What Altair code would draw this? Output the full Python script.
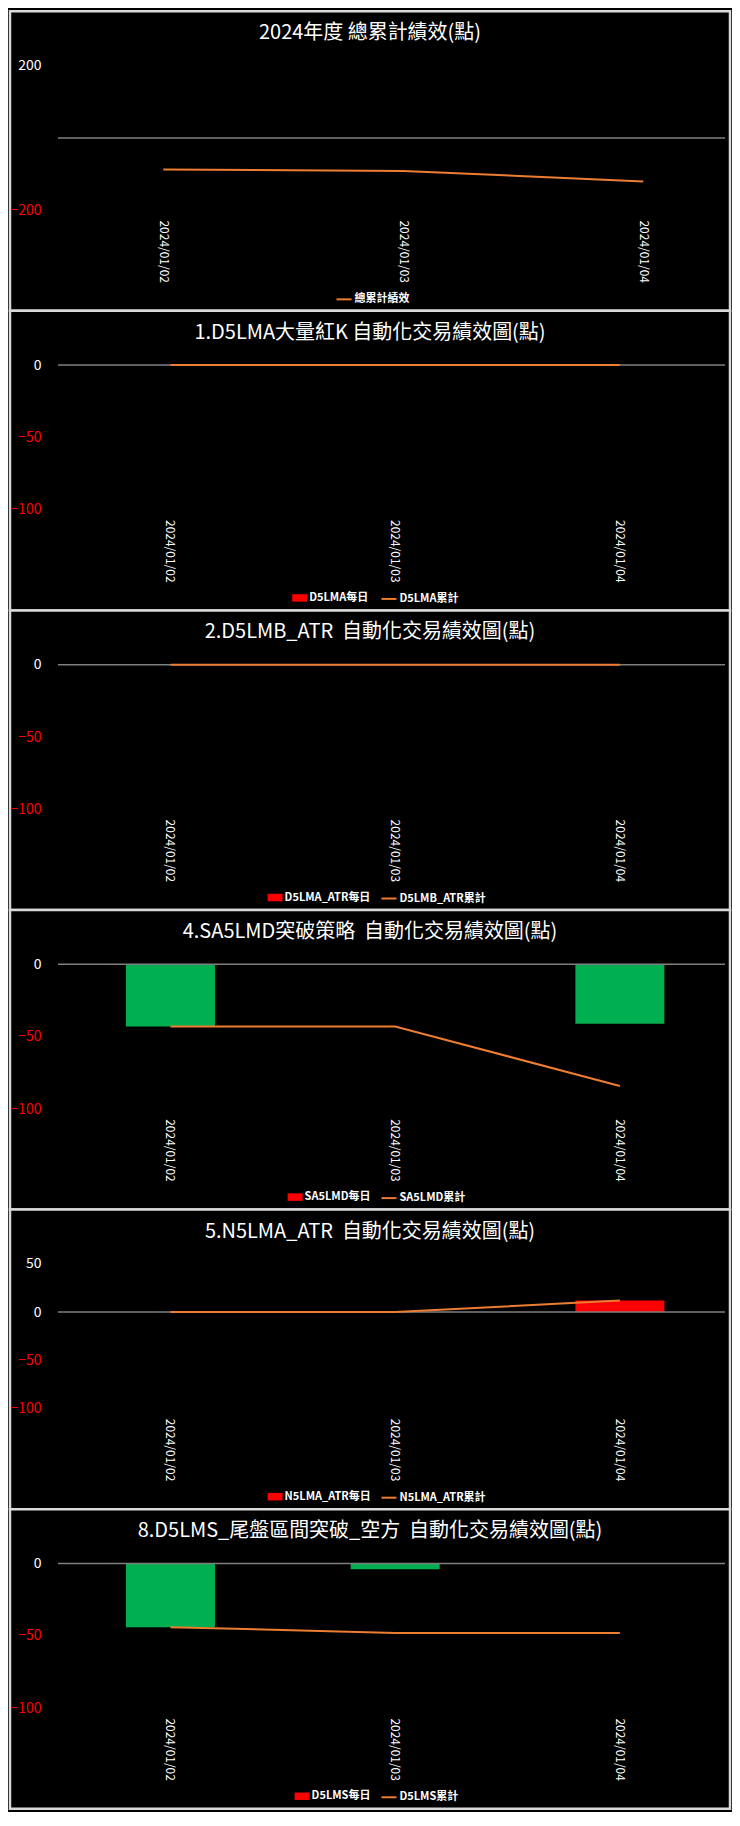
import altair as alt
import pandas as pd

# ---------------- data ----------------
dates = ["2024/01/02", "2024/01/03", "2024/01/04"]

total_cum = [-87, -91, -120]

d5lma_daily = [0, 0, 0]
d5lma_cum = [0, 0, 0]

d5lmb_daily = [0, 0, 0]
d5lmb_cum = [0, 0, 0]

sa5lmd_daily = [-43, 0, -41]
sa5lmd_cum = [-43, -43, -84]

n5lma_daily = [0, 0, 12]
n5lma_cum = [0, 0, 12]

d5lms_daily = [-44, -4, 0]
d5lms_cum = [-44, -48, -48]

titles = [
    "2024年度 總累計績效(點)",
    "1.D5LMA大量紅K 自動化交易績效圖(點)",
    "2.D5LMB_ATR\u00a0 自動化交易績效圖(點)",
    "4.SA5LMD突破策略\u00a0 自動化交易績效圖(點)",
    "5.N5LMA_ATR\u00a0 自動化交易績效圖(點)",
    "8.D5LMS_尾盤區間突破_空方\u00a0 自動化交易績效圖(點)",
]
daily_labels = [None, "D5LMA每日", "D5LMA_ATR每日", "SA5LMD每日", "N5LMA_ATR每日", "D5LMS每日"]
cum_labels = ["總累計績效", "D5LMA累計", "D5LMB_ATR累計", "SA5LMD累計", "N5LMA_ATR累計", "D5LMS累計"]
daily_series = [None, d5lma_daily, d5lmb_daily, sa5lmd_daily, n5lma_daily, d5lms_daily]
cum_series = [total_cum, d5lma_cum, d5lmb_cum, sa5lmd_cum, n5lma_cum, d5lms_cum]
y_ranges = [(-200, 200), (-100, 0), (-100, 0), (-100, 0), (-100, 50), (-100, 0)]
y_ticks = [[200, -200], [0, -50, -100], [0, -50, -100], [0, -50, -100],
           [50, 0, -50, -100], [0, -50, -100]]

# ---------------- layout / style ----------------
W, H = 721, 300
PLOT_TOP, PLOT_BOT = 54.3, 199.4
RULE_X0, RULE_X1 = 48.0, 716.0
STEP, FIRST_CENTER, PAD_IN = 225.0, 160.7, 0.604
FONT = "Noto Sans CJK TC"
RED, GREEN, ORANGE, ZERO = "#FF0000", "#00B050", "#ED7D31", "#7F7F7F"
daily_legend_x = [None, 282.6, 258.0, 278.0, 258.0, 285.0]
cum_legend_x = [326.0, 371.0, 371.0, 371.0, 371.0, 371.0]
LEGEND_Y = 280

po = (W / STEP - (3 - PAD_IN)) / 2
first_start = FIRST_CENTER - STEP * (1 - PAD_IN) / 2
align = first_start / (W - STEP * (3 - PAD_IN))
xscale = alt.Scale(domain=dates, paddingInner=PAD_IN, paddingOuter=po, align=align)

xaxis = alt.Axis(orient="bottom", offset=-91, labelAngle=90, labelPadding=0,
                 ticks=False, tickSize=0, domain=False, grid=False, title=None,
                 labelColor="#FFFFFF", labelFontSize=12, labelFont=FONT,
                 labelOverlap=False)


def yscale(ymin, ymax):
    k = (PLOT_BOT - PLOT_TOP) / (ymax - ymin)
    return alt.Scale(domain=[ymin - (H - PLOT_BOT) / k, ymax + PLOT_TOP / k],
                     nice=False, zero=False)


def yaxis(ticks):
    return alt.Axis(values=ticks, orient="left", offset=-31, labelPadding=0,
                    ticks=False, tickSize=0, domain=False, grid=False, title=None,
                    labelColor={"condition": {"test": "datum.value < 0", "value": RED},
                                "value": "#FFFFFF"},
                    labelFontSize=14, labelFont=FONT, labelOverlap=False,
                    labelBaseline="middle")


def legend(x, symbol, size, stroke_w):
    return alt.Legend(orient="none", legendX=x, legendY=LEGEND_Y, title=None,
                      symbolType=symbol, symbolSize=size, symbolStrokeWidth=stroke_w,
                      symbolOpacity=1, labelColor="#FFFFFF", labelFont=FONT,
                      labelFontSize=11, labelFontWeight="bold", labelOffset=2,
                      padding=0)


panels = []
for i in range(6):
    ymin, ymax = y_ranges[i]
    ys = yscale(ymin, ymax)
    df = pd.DataFrame({
        "date": dates,
        "cum": cum_series[i],
        "clabel": [cum_labels[i]] * 3,
    })
    layers = []
    if daily_series[i] is not None:
        df["daily"] = daily_series[i]
        df["dlabel"] = [daily_labels[i]] * 3
        bars = alt.Chart(df).mark_bar().encode(
            x=alt.X("date:N", scale=xscale, axis=xaxis),
            y=alt.Y("daily:Q", scale=ys, axis=yaxis(y_ticks[i])),
            y2=alt.datum(0),
            fill=alt.when(alt.datum.daily >= 0).then(
                alt.Fill("dlabel:N",
                         scale=alt.Scale(domain=[daily_labels[i]], range=[RED]),
                         legend=legend(daily_legend_x[i], "M-1,-0.5H1V0.5H-1Z", 225, 0))
            ).otherwise(alt.value(GREEN)),
        )
        layers.append(bars)
    rule = alt.Chart(pd.DataFrame({"z": [0]})).mark_rule(
        color=ZERO, strokeWidth=1.5
    ).encode(x=alt.value(RULE_X0), x2=alt.value(RULE_X1), y=alt.datum(0))
    line = alt.Chart(df).mark_line(strokeWidth=2).encode(
        x=alt.X("date:N", scale=xscale, axis=xaxis),
        y=alt.Y("cum:Q", scale=ys, axis=yaxis(y_ticks[i])),
        stroke=alt.Stroke("clabel:N",
                          scale=alt.Scale(domain=[cum_labels[i]], range=[ORANGE]),
                          legend=legend(cum_legend_x[i], "stroke", 225, 2)),
    )
    layers += [rule, line]
    panel = alt.layer(*layers).properties(
        width=W, height=H,
        title=alt.TitleParams(text=titles[i], orient="top", anchor="middle",
                              offset=-24, dy=18, baseline="middle", color="#FFFFFF",
                              fontSize=20, font=FONT, fontWeight="normal"),
    )
    panels.append(panel)

chart = alt.vconcat(*panels, spacing=0, bounds="flush").resolve_scale(
    fill="independent", stroke="independent", x="independent", y="independent"
).resolve_legend(
    fill="independent", stroke="independent"
).properties(
    padding=0, background="#000000"
).configure_view(stroke="#D9D9D9", strokeWidth=2.5, fill="#000000")

chart.save("out.html", embed_options={"renderer": "svg", "actions": False})
